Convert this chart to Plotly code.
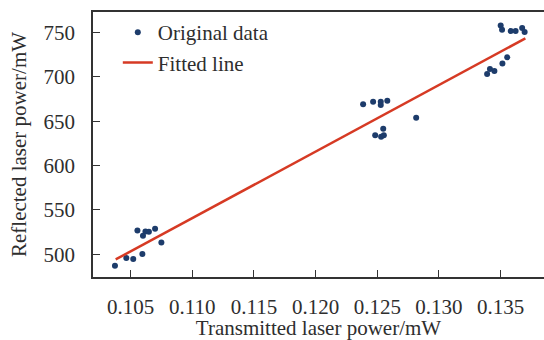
import plotly.graph_objects as go

# Original data (transmitted power / mW, reflected power / mW)
trans_x = [0.10374, 0.10466, 0.10522, 0.10556, 0.10596, 0.10601, 0.10621, 0.10649, 0.10699, 0.10750,
           0.12385, 0.12466, 0.12528, 0.12528, 0.12581, 0.12483, 0.12531, 0.12548, 0.12553, 0.12815,
           0.13390, 0.13413, 0.13449, 0.13514, 0.13553, 0.13500, 0.13511, 0.13581, 0.13621, 0.13674, 0.13694]
refl_y = [487.2, 495.8, 494.7, 526.9, 500.3, 520.9, 525.8, 525.4, 528.8, 513.4,
          669.0, 672.0, 672.0, 668.3, 673.1, 634.1, 632.6, 641.6, 634.1, 654.0,
          703.1, 708.8, 706.5, 715.1, 721.9, 757.9, 753.0, 751.5, 751.5, 754.9, 750.4]

# Fitted line end points
fit_x = [0.1038, 0.1370]
fit_y = [494.3, 743.3]

x_ticks = [0.105, 0.110, 0.115, 0.120, 0.125, 0.130, 0.135]
x_tick_labels = ["0.105", "0.110", "0.115", "0.120", "0.125", "0.130", "0.135"]
y_ticks = [500, 550, 600, 650, 700, 750]

FONT = "Liberation Serif, Times New Roman, serif"
TXT = "#2e2e2e"

fig = go.Figure()
fig.add_trace(go.Scatter(x=trans_x, y=refl_y, mode="markers", name="Original data",
                         legendgroup="a",
                         marker=dict(color="#1d3c6b", size=6)))
fig.add_trace(go.Scatter(x=fit_x, y=fit_y, mode="lines", name="Fitted line",
                         legendgroup="b",
                         line=dict(color="#d63a24", width=2.5)))

axis_common = dict(showgrid=False, zeroline=False, showline=True, linecolor="#333333",
                   linewidth=1.5, ticks="inside", ticklen=7, tickwidth=1.2, tickcolor="#333333",
                   automargin=False,
                   tickfont=dict(family=FONT, size=21, color=TXT))

fig.update_layout(
    width=544, height=340,
    margin=dict(l=93, r=0, t=12, b=63),
    paper_bgcolor="white", plot_bgcolor="white",
    font=dict(family=FONT, size=21, color=TXT),
    showlegend=True,
    legend=dict(x=0.055, y=1.0, xanchor="left", yanchor="top", bgcolor="rgba(0,0,0,0)",
                font=dict(family=FONT, size=21, color=TXT),
                traceorder="grouped", tracegroupgap=0),
    xaxis=dict(range=[0.10196, 0.13851], tickvals=x_ticks, ticktext=x_tick_labels,
               mirror=True, ticklabelstandoff=10,
               title=dict(text="Transmitted laser power/mW", standoff=6,
                          font=dict(family=FONT, size=21, color=TXT)),
               **axis_common),
    yaxis=dict(range=[474.5, 773], tickvals=y_ticks, mirror=False, ticklabelstandoff=12,
               title=dict(text="Reflected laser power/mW", standoff=11,
                          font=dict(family=FONT, size=21, color=TXT)),
               **axis_common),
)

fig.write_html("out.html", config={"displayModeBar": False},
               post_script="document.body.style.margin='0px';")
